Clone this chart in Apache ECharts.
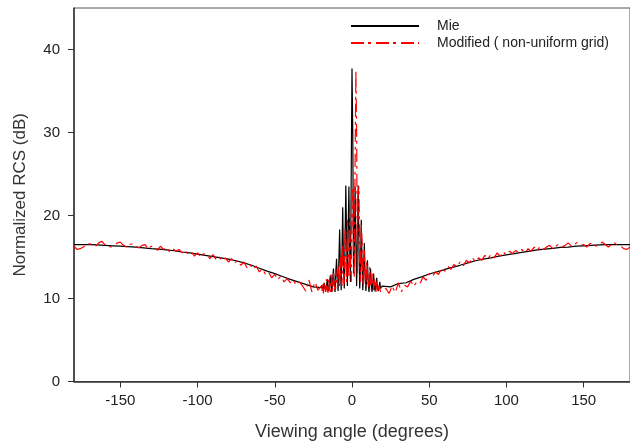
<!DOCTYPE html>
<html>
<head>
<meta charset="utf-8">
<script src="https://cdn.jsdelivr.net/npm/echarts@6.0.0/dist/echarts.min.js"></script>
<style>
  html, body { margin: 0; padding: 0; background: #fff; }
  #chart { width: 630px; height: 447px; }
</style>
</head>
<body>
<div id="chart"></div>
<script>
// tick labels
var xTicks = [-150, -100, -50, 0, 50, 100, 150];
var yTicks = [0, 10, 20, 30, 40];

// Mie (black, solid)
var mieAngle = [
  -180, -175, -170, -165, -160, -155, -150, -145, -140, -135, -130, -125, -120, -115, -110, -105,
  -100, -95, -90, -85, -80, -75, -70, -65, -60, -55, -50, -45, -40, -35, -30, -25,
  -20, -19.5, -19, -18.5, -18, -17.5, -17, -16.5, -16, -15.5, -15, -14.5, -14, -13.5, -13, -12.5,
  -12, -11.5, -11, -10.5, -10, -9.5, -9, -8.5, -8, -7.5, -7, -6.5, -6, -5.5, -5, -4.5,
  -4, -3.5, -3, -2.5, -2, -1.5, -1, -0.5, 0, 0.5, 1, 1.5, 2, 2.5, 3, 3.5,
  4, 4.5, 5, 5.5, 6, 6.5, 7, 7.5, 8, 8.5, 9, 9.5, 10, 10.5, 11, 11.5,
  12, 12.5, 13, 13.5, 14, 14.5, 15, 15.5, 16, 16.5, 17, 17.5, 18, 18.5, 19, 19.5, 20,
  25, 30, 35, 40, 45, 50, 55, 60, 65, 70, 75, 80, 85, 90, 95, 100,
  105, 110, 115, 120, 125, 130, 135, 140, 145, 150, 155, 160, 165, 170, 175, 180
];
var mieRcs = [
  16.5, 16.5, 16.5, 16.45, 16.4, 16.35, 16.3, 16.25, 16.2, 16.1, 16.0, 15.95, 15.85, 15.75, 15.6, 15.5,
  15.35, 15.2, 15.05, 14.9, 14.75, 14.55, 14.3, 14.0, 13.65, 13.3, 13.0, 12.65, 12.3, 12.0, 11.7, 11.4,
  11.3, 11.6, 11.0, 11.3, 11.9, 11.1, 10.9, 11.5, 12.3, 11.2, 10.9, 12.0, 12.8, 11.4, 10.8, 12.4,
  13.6, 11.8, 10.8, 13.0, 14.8, 12.2, 10.9, 14.5, 18.3, 13.5, 11.0, 15.5, 21.0, 14.0, 11.2, 17.0,
  23.6, 17.5, 11.5, 18.0, 23.5, 16.0, 12.0, 25.0, 37.7, 30.0, 13.0, 16.0, 23.5, 17.0, 11.5, 17.0,
  23.6, 16.0, 11.2, 13.5, 19.5, 14.0, 11.0, 13.5, 16.7, 12.5, 10.9, 12.5, 14.6, 12.0, 10.8, 12.3,
  13.6, 11.5, 10.8, 12.0, 13.0, 11.3, 10.9, 11.7, 12.5, 11.2, 10.9, 11.3, 12.0, 11.2, 11.0, 11.5, 11.3,
  11.4, 11.8, 11.9, 12.3, 12.6, 12.95, 13.2, 13.5, 13.75, 14.0, 14.3, 14.55, 14.75, 14.9, 15.1, 15.25,
  15.4, 15.55, 15.7, 15.85, 15.95, 16.05, 16.15, 16.2, 16.3, 16.35, 16.4, 16.45, 16.5, 16.5, 16.5, 16.5
];

// Modified, non-uniform grid (red, dash-dot)
var modAngle = [
  -180, -178, -176, -174, -172, -170, -168, -166, -164, -162, -160, -158, -156, -154, -152, -150,
  -148, -146, -144, -142, -140, -138, -136, -134, -132, -130, -128, -126, -124, -122, -120, -118,
  -116, -114, -112, -110, -108, -106, -104, -102, -100, -98, -96, -94, -92, -90, -88, -86,
  -84, -82, -80, -78, -76, -74, -72, -70, -68, -66, -64, -62, -60, -58, -56, -54,
  -52, -50, -48, -46, -44, -42, -40, -38, -36, -34, -32, -30, -28, -26, -24, -22,
  -20, -19.5, -19, -18.5, -18, -17.5, -17, -16.5, -16, -15.5, -15, -14.5, -14, -13.5, -13, -12.5,
  -12, -11.5, -11, -10.5, -10, -9.5, -9, -8.5, -8, -7.5, -7, -6.5, -6, -5.5, -5, -4.5,
  -4, -3.5, -3, -2.5, -2, -1.5, -1, -0.5, 0, 0.5, 1, 1.5, 2, 2.5, 3, 3.5,
  4, 4.5, 5, 5.5, 6, 6.5, 7, 7.5, 8, 8.5, 9, 9.5, 10, 10.5, 11, 11.5,
  12, 12.5, 13, 13.5, 14, 14.5, 15, 15.5, 16, 16.5, 17, 17.5, 18, 18.5, 19, 19.5, 20,
  22, 24, 26, 28, 30, 32, 34, 36, 38, 40, 42, 44, 46, 48, 50, 52,
  54, 56, 58, 60, 62, 64, 66, 68, 70, 72, 74, 76, 78, 80, 82, 84,
  86, 88, 90, 92, 94, 96, 98, 100, 102, 104, 106, 108, 110, 112, 114, 116,
  118, 120, 122, 124, 126, 128, 130, 132, 134, 136, 138, 140, 142, 144, 146, 148,
  150, 152, 154, 156, 158, 160, 162, 164, 166, 168, 170, 172, 174, 176, 178, 180
];
var modRcs = [
  16.3, 15.9, 16.0, 16.2, 16.4, 16.6, 16.5, 16.3, 16.7, 16.9, 16.5, 16.3, 16.2, 16.4, 16.7, 16.8,
  16.4, 16.2, 16.5, 16.6, 16.3, 16.1, 16.4, 16.5, 16.0, 16.3, 16.2, 15.8, 16.3, 15.9, 16.1, 15.6,
  16.0, 15.7, 15.9, 15.5, 15.8, 15.3, 15.6, 15.1, 15.5, 15.0, 15.4, 15.2, 14.8, 15.3, 14.7, 15.0,
  14.5, 14.9, 14.4, 14.8, 14.3, 14.6, 14.0, 14.4, 13.7, 14.1, 13.5, 13.9, 13.2, 13.6, 12.9, 13.2,
  12.5, 12.9, 12.3, 12.7, 12.0, 12.4, 11.9, 12.2, 11.6, 12.0, 11.5, 10.9, 12.3, 10.8, 12.0, 11.0,
  11.5, 10.9, 11.8, 10.6, 12.0, 11.2, 10.8, 12.3, 11.0, 10.7, 12.5, 11.3, 10.8, 12.9, 11.5, 10.9,
  13.3, 11.6, 11.0, 13.6, 12.0, 11.2, 14.0, 12.5, 11.4, 15.0, 12.8, 11.5, 16.5, 13.5, 11.8, 18.5,
  14.5, 12.0, 19.5, 15.0, 12.5, 20.5, 14.0, 12.0, 22.0, 23.5, 15.0, 12.5, 26.0, 37.5, 30.0, 13.0,
  22.5, 23.5, 14.5, 12.0, 19.0, 17.0, 11.8, 13.0, 15.8, 12.5, 11.4, 14.5, 13.5, 11.2, 12.0, 13.8,
  11.5, 11.0, 13.0, 12.0, 11.0, 12.4, 11.8, 10.8, 12.0, 11.5, 10.7, 11.6, 11.2, 10.8, 11.5, 11.0, 10.9,
  11.2, 10.6, 11.5, 10.7, 11.9, 10.8, 11.6, 11.4, 12.1, 11.5, 12.0, 11.8, 12.6, 12.2, 13.0, 12.6,
  13.2, 12.9, 13.6, 13.3, 13.9, 13.5, 14.1, 13.8, 14.4, 13.9, 14.6, 14.3, 14.9, 14.4, 14.9, 14.6,
  15.2, 14.8, 15.3, 14.9, 15.5, 15.1, 15.6, 15.2, 15.7, 15.4, 15.8, 15.5, 15.9, 15.5, 16.0, 15.7,
  16.2, 15.8, 16.3, 15.9, 16.2, 16.4, 16.0, 16.3, 16.6, 16.2, 16.4, 16.7, 16.3, 16.5, 16.8, 16.4,
  16.5, 16.2, 16.6, 16.7, 16.3, 16.4, 16.8, 16.5, 16.2, 16.5, 16.7, 16.4, 16.3, 16.0, 15.9, 16.2
];

function pairs(xs, ys) {
  return xs.map(function (x, i) { return [x, ys[i]]; });
}

var fontFamily = '"Liberation Sans", Arial, sans-serif';
var myChart = echarts.init(document.getElementById('chart'));

myChart.setOption({
  animation: false,
  textStyle: { fontFamily: fontFamily },
  grid: {
    left: 74,
    top: 8,
    width: 558,
    height: 373.5,
    show: true,
    borderColor: '#555',
    borderWidth: 1
  },
  legend: {
    orient: 'vertical',
    left: 345,
    top: 14,
    itemWidth: 68,
    itemHeight: 14,
    itemGap: 3,
    itemStyle: { opacity: 0 },
    textStyle: {
      fontSize: 14,
      color: '#222',
      padding: [0, 0, 0, 13]
    },
    data: ['Mie', 'Modified ( non-uniform grid)']
  },
  xAxis: {
    type: 'value',
    min: -180,
    max: 180,
    name: 'Viewing angle (degrees)',
    nameLocation: 'middle',
    nameGap: 42,
    nameTextStyle: { fontSize: 18, color: '#333' },
    axisLine: { show: true, onZero: false, lineStyle: { color: '#333', width: 1.5 } },
    axisTick: { show: true, length: 6, customValues: xTicks, lineStyle: { color: '#333' } },
    axisLabel: { customValues: xTicks, fontSize: 15, color: '#222', margin: 12 },
    splitLine: { show: false }
  },
  yAxis: {
    type: 'value',
    min: 0,
    max: 45,
    name: 'Normalized RCS (dB)',
    nameLocation: 'middle',
    nameGap: 45,
    nameTextStyle: { fontSize: 17, color: '#333' },
    axisLine: { show: true, onZero: false, lineStyle: { color: '#333', width: 1.5 } },
    axisTick: { show: true, length: 6, customValues: yTicks, lineStyle: { color: '#333' } },
    axisLabel: { customValues: yTicks, fontSize: 15, color: '#222', margin: 14 },
    splitLine: { show: false }
  },
  series: [
    {
      name: 'Mie',
      type: 'line',
      symbol: 'none',
      data: pairs(mieAngle, mieRcs),
      lineStyle: { color: '#000', width: 1.2 },
      itemStyle: { color: '#000' }
    },
    {
      name: 'Modified ( non-uniform grid)',
      type: 'line',
      symbol: 'none',
      data: pairs(modAngle, modRcs),
      lineStyle: { color: '#ff0000', width: 1.2, type: [13, 4, 3, 5] },
      itemStyle: { color: '#ff0000' }
    }
  ]
});
</script>
</body>
</html>
